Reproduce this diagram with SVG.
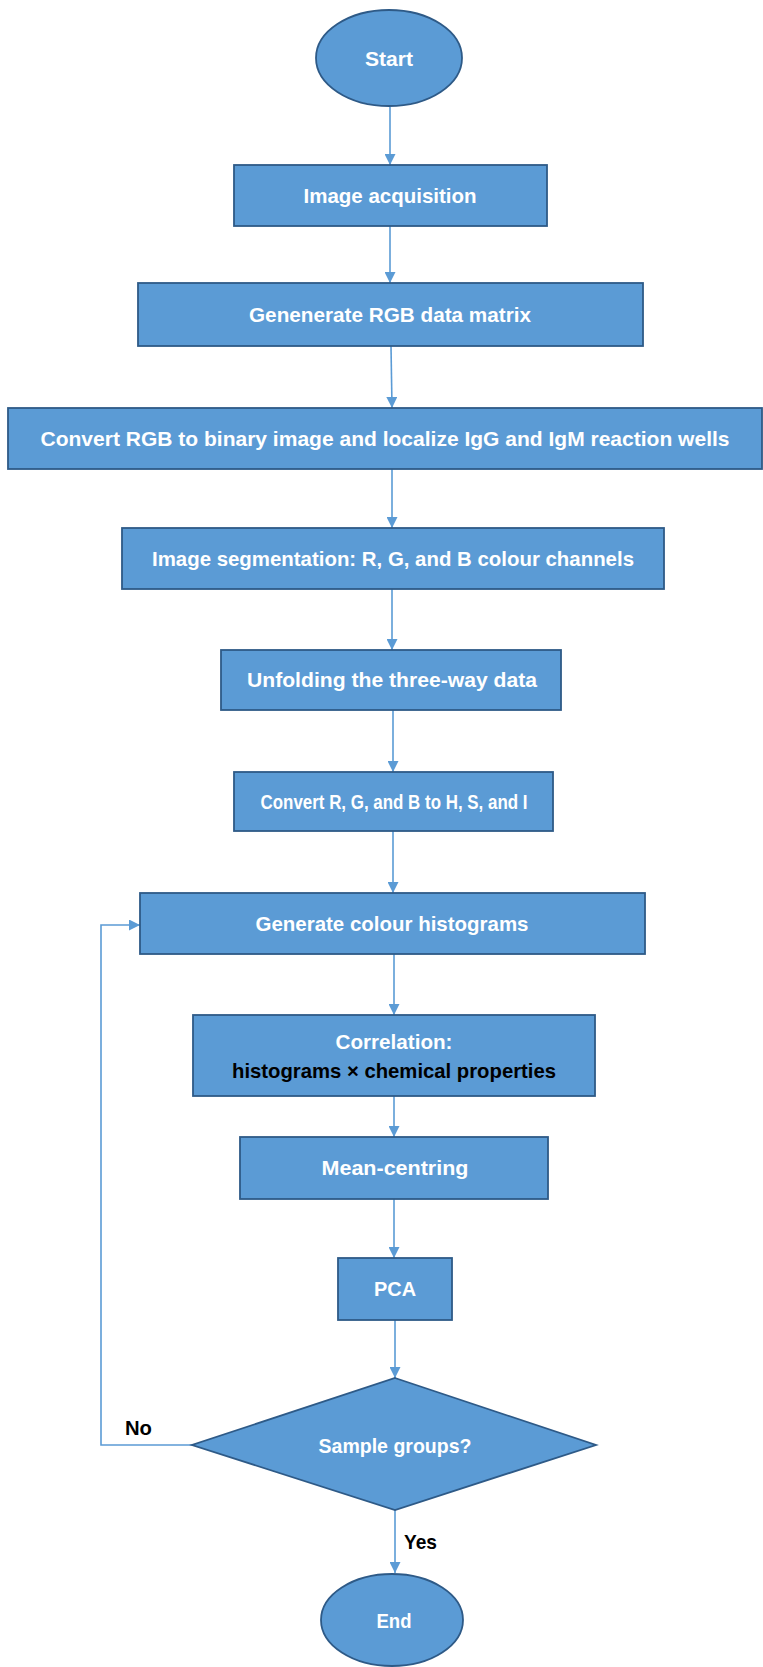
<svg xmlns="http://www.w3.org/2000/svg" width="763" height="1667" viewBox="0 0 763 1667">
<defs>
<marker id="ah" viewBox="0 0 10 10" refX="10" refY="5" markerWidth="11" markerHeight="11" orient="auto" markerUnits="userSpaceOnUse">
<path d="M0,0 L10,5 L0,10 Z" fill="#5B9BD5"/>
</marker>
<style>
.n{fill:#5B9BD5;stroke:#2E5A87;stroke-width:1.8}
.t{font-family:"Liberation Sans",Arial,sans-serif;font-weight:bold;font-size:21px;fill:#ffffff;text-anchor:middle}
.k{font-family:"Liberation Sans",Arial,sans-serif;font-weight:bold;font-size:21px;fill:#000000}
.c{fill:none;stroke:#5B9BD5;stroke-width:1.6;marker-end:url(#ah)}
</style>
</defs>
<rect width="763" height="1667" fill="#ffffff"/>
<g id="connectors">
<line class="c" x1="390" y1="107" x2="390" y2="165"/>
<line class="c" x1="390" y1="226" x2="390" y2="283"/>
<line class="c" x1="391" y1="346" x2="392" y2="408"/>
<line class="c" x1="392" y1="469" x2="392" y2="528"/>
<line class="c" x1="392" y1="589" x2="392" y2="650"/>
<line class="c" x1="393" y1="710" x2="393" y2="772"/>
<line class="c" x1="393" y1="831" x2="393" y2="893"/>
<line class="c" x1="394" y1="954" x2="394" y2="1015"/>
<line class="c" x1="394" y1="1096" x2="394" y2="1137"/>
<line class="c" x1="394" y1="1199" x2="394" y2="1258"/>
<line class="c" x1="395" y1="1320" x2="395" y2="1378"/>
<line class="c" x1="395" y1="1510" x2="395" y2="1573"/>
<polyline class="c" points="192,1445 101,1445 101,925 140,925"/>
</g>
<g id="start"><ellipse class="n" cx="389" cy="58" rx="73" ry="48"/><text class="t" x="389" y="66" textLength="48" lengthAdjust="spacingAndGlyphs">Start</text></g>
<g id="n1"><rect class="n" x="234" y="165" width="313" height="61"/><text class="t" x="390" y="203" textLength="173" lengthAdjust="spacingAndGlyphs">Image acquisition</text></g>
<g id="n2"><rect class="n" x="138" y="283" width="505" height="63"/><text class="t" x="390" y="322" textLength="282" lengthAdjust="spacingAndGlyphs">Genenerate RGB data matrix</text></g>
<g id="n3"><rect class="n" x="8" y="408" width="754" height="61"/><text class="t" x="385" y="446" textLength="689" lengthAdjust="spacingAndGlyphs">Convert RGB to binary image and localize IgG and IgM reaction wells</text></g>
<g id="n4"><rect class="n" x="122" y="528" width="542" height="61"/><text class="t" x="393" y="566" textLength="482" lengthAdjust="spacingAndGlyphs">Image segmentation: R, G, and B colour channels</text></g>
<g id="n5"><rect class="n" x="221" y="650" width="340" height="60"/><text class="t" x="392" y="687" textLength="290" lengthAdjust="spacingAndGlyphs">Unfolding the three-way data</text></g>
<g id="n6"><rect class="n" x="234" y="772" width="319" height="59"/><text class="t" x="394" y="809" textLength="267" lengthAdjust="spacingAndGlyphs">Convert R, G, and B to H, S, and I</text></g>
<g id="n7"><rect class="n" x="140" y="893" width="505" height="61"/><text class="t" x="392" y="931" textLength="273" lengthAdjust="spacingAndGlyphs">Generate colour histograms</text></g>
<g id="n8"><rect class="n" x="193" y="1015" width="402" height="81"/><text class="t" x="394" y="1049" textLength="117" lengthAdjust="spacingAndGlyphs">Correlation:</text><text class="k" x="394" y="1078" text-anchor="middle" textLength="324" lengthAdjust="spacingAndGlyphs">histograms × chemical properties</text></g>
<g id="n9"><rect class="n" x="240" y="1137" width="308" height="62"/><text class="t" x="395" y="1175" textLength="147" lengthAdjust="spacingAndGlyphs">Mean-centring</text></g>
<g id="n10"><rect class="n" x="338" y="1258" width="114" height="62"/><text class="t" x="395" y="1296" textLength="42" lengthAdjust="spacingAndGlyphs">PCA</text></g>
<g id="decision"><polygon class="n" points="395,1378 596,1445 395,1510 192,1445"/><text class="t" x="395" y="1453" textLength="153" lengthAdjust="spacingAndGlyphs">Sample groups?</text></g>
<g id="end"><ellipse class="n" cx="392" cy="1620" rx="71" ry="46"/><text class="t" x="394" y="1628" textLength="35" lengthAdjust="spacingAndGlyphs">End</text></g>
<g id="labels"><text class="k" x="125" y="1435" textLength="27" lengthAdjust="spacingAndGlyphs">No</text><text class="k" x="404" y="1549" textLength="33" lengthAdjust="spacingAndGlyphs">Yes</text></g>
</svg>
